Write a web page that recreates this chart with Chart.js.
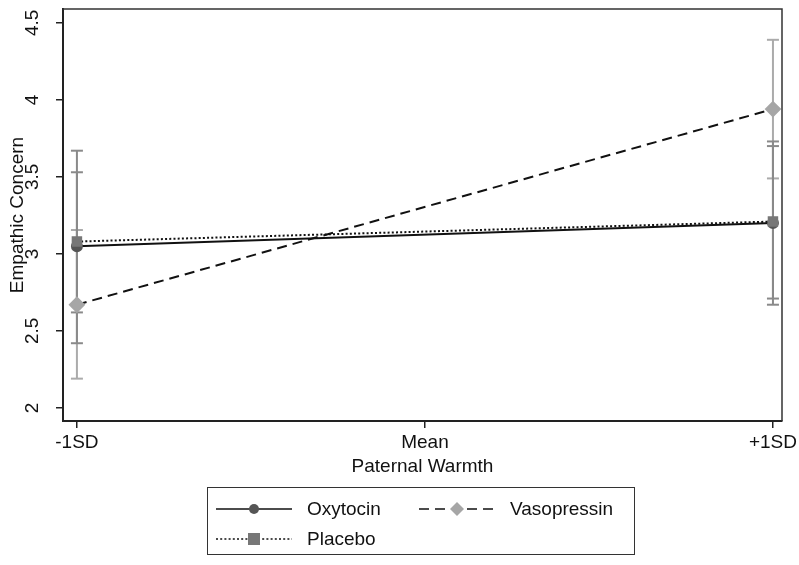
<!DOCTYPE html>
<html>
<head>
<meta charset="utf-8">
<script src="https://cdn.jsdelivr.net/npm/chart.js@4/dist/chart.umd.min.js"></script>
<style>
  body { margin: 0; background: #fff; }
  #wrap { position: relative; width: 799px; height: 565px; }
  #legend {
    position: absolute; left: 207px; top: 487px; width: 428px; height: 68px;
    border: 1.5px solid #333; box-sizing: border-box;
    font-family: 'Liberation Sans', Arial, sans-serif; font-size: 19px; color: #111;
  }
  .item { position: absolute; height: 22px; line-height: 22px; white-space: nowrap; }
  .item svg { position: absolute; top: 0; }
  .item span { position: absolute; }
</style>
</head>
<body>
<div id="wrap">
  <canvas id="myChart" width="799" height="565"></canvas>
  <div id="legend"></div>
</div>
<script>
// x positions: -1SD, Mean, +1SD
var xTicks = [-1, 0, 1];
var xLabels = ['-1SD', 'Mean', '+1SD'];
var xPoints = [-1, 1];
var yTicks = [2, 2.5, 3, 3.5, 4, 4.5];

var oxytocin = [3.05, 3.20];
var oxytocinLow = [2.42, 2.67];
var oxytocinHigh = [3.67, 3.73];

var vasopressin = [2.67, 3.94];
var vasopressinLow = [2.19, 3.49];
var vasopressinHigh = [3.155, 4.39];

var placebo = [3.08, 3.21];
var placeboLow = [2.62, 2.71];
var placeboHigh = [3.53, 3.70];

function points(vals) {
  return xPoints.map(function (x, i) { return {x: x, y: vals[i]}; });
}
function bars(lo, hi) {
  var d = [];
  xPoints.forEach(function (x, i) {
    if (i > 0) d.push({x: x, y: null});
    d.push({x: x, y: lo[i]});
    d.push({x: x, y: hi[i]});
  });
  return d;
}
function errSet(lo, hi, color, order) {
  return {
    data: bars(lo, hi), borderColor: color, borderWidth: 2, order: order,
    pointStyle: 'line', pointRadius: 6, pointBorderColor: color, pointBorderWidth: 2,
    spanGaps: false, fill: false
  };
}

var frame = {
  id: 'frame',
  afterDatasetsDraw: function (chart) {
    var a = chart.chartArea, c = chart.ctx;
    c.save();
    c.strokeStyle = '#333';
    c.lineWidth = 1.5;
    c.beginPath();
    c.moveTo(a.left, a.top); c.lineTo(a.right, a.top); c.lineTo(a.right, a.bottom);
    c.stroke();
    c.restore();
  }
};

Chart.defaults.font.family = "'Liberation Sans', Arial, sans-serif";
Chart.defaults.font.size = 19;
Chart.defaults.color = '#111';

var ctx = document.getElementById('myChart').getContext('2d');
new Chart(ctx, {
  type: 'line',
  data: {
    datasets: [
      {
        label: 'Oxytocin', data: points(oxytocin), borderColor: '#111', borderWidth: 2, order: 1,
        pointStyle: 'circle', pointRadius: 5, pointBackgroundColor: '#555', pointBorderColor: '#555'
      },
      {
        label: 'Vasopressin', data: points(vasopressin), borderColor: '#111', borderWidth: 2, order: 2,
        borderDash: [10, 6],
        pointStyle: 'rectRot', pointRadius: 7, pointBackgroundColor: '#a6a6a6', pointBorderColor: '#a6a6a6'
      },
      {
        label: 'Placebo', data: points(placebo), borderColor: '#111', borderWidth: 2, order: 0,
        borderDash: [2, 2.2],
        pointStyle: 'rect', pointRadius: 6, pointBackgroundColor: '#777', pointBorderColor: '#777'
      },
      errSet(oxytocinLow, oxytocinHigh, '#8a8a8a', 3),
      errSet(placeboLow, placeboHigh, '#8a8a8a', 4),
      errSet(vasopressinLow, vasopressinHigh, '#ababab', 5)
    ]
  },
  plugins: [frame],
  options: {
    responsive: false,
    animation: false,
    events: [],
    layout: { padding: { top: 9, right: 17, bottom: 84, left: 0 } },
    plugins: { legend: { display: false }, tooltip: { enabled: false } },
    scales: {
      x: {
        type: 'linear', min: -1.04, max: 1.026,
        afterBuildTicks: function (s) { s.ticks = xTicks.map(function (v) { return {value: v}; }); },
        afterFit: function (s) { s.height = 60; s.paddingLeft = 0; s.paddingRight = 0; },
        ticks: {
          padding: 3, maxRotation: 0,
          callback: function (v) { return xLabels[xTicks.indexOf(v)]; }
        },
        grid: { drawOnChartArea: false, drawTicks: true, tickLength: 7, color: '#222', lineWidth: 1.5 },
        border: { display: true, color: '#222', width: 2 },
        title: { display: true, text: 'Paternal Warmth', padding: { top: 0, bottom: 3 } }
      },
      y: {
        type: 'linear', min: 1.915, max: 4.59,
        afterBuildTicks: function (s) { s.ticks = yTicks.map(function (v) { return {value: v}; }); },
        afterFit: function (s) { s.width = 63; s.paddingTop = 0; s.paddingBottom = 0; },
        ticks: {
          padding: 10, minRotation: 90, maxRotation: 90, crossAlign: 'center',
          callback: function (v) { return String(v); }
        },
        grid: { drawOnChartArea: false, drawTicks: true, tickLength: 7, color: '#222', lineWidth: 1.5 },
        border: { display: true, color: '#222', width: 2 },
        title: { display: true, text: 'Empathic Concern', padding: { top: 6, bottom: 0 } }
      }
    }
  }
});

// legend (samples drawn as svg, text as html)
var legendItems = [
  {label: 'Oxytocin', left: 8, top: 10, dash: '', shape: 'circle', fill: '#555'},
  {label: 'Vasopressin', left: 211, top: 10, dash: '10 6', shape: 'diamond', fill: '#a6a6a6'},
  {label: 'Placebo', left: 8, top: 40, dash: '2 2.2', shape: 'square', fill: '#777'}
];
var lg = document.getElementById('legend');
legendItems.forEach(function (it) {
  var m;
  if (it.shape === 'circle') m = '<circle cx="38" cy="11" r="5" fill="' + it.fill + '"/>';
  else if (it.shape === 'diamond') m = '<polygon points="38,4 45,11 38,18 31,11" fill="' + it.fill + '"/>';
  else m = '<rect x="32" y="5" width="12" height="12" fill="' + it.fill + '"/>';
  var d = document.createElement('div');
  d.className = 'item';
  d.style.left = it.left + 'px';
  d.style.top = it.top + 'px';
  d.innerHTML = '<svg width="78" height="22"><line x1="0" y1="11" x2="76" y2="11" stroke="#111" stroke-width="1.5"' +
    (it.dash ? ' stroke-dasharray="' + it.dash + '"' : '') + '/>' + m + '</svg>' +
    '<span style="left:91px">' + it.label + '</span>';
  lg.appendChild(d);
});
</script>
</body>
</html>
